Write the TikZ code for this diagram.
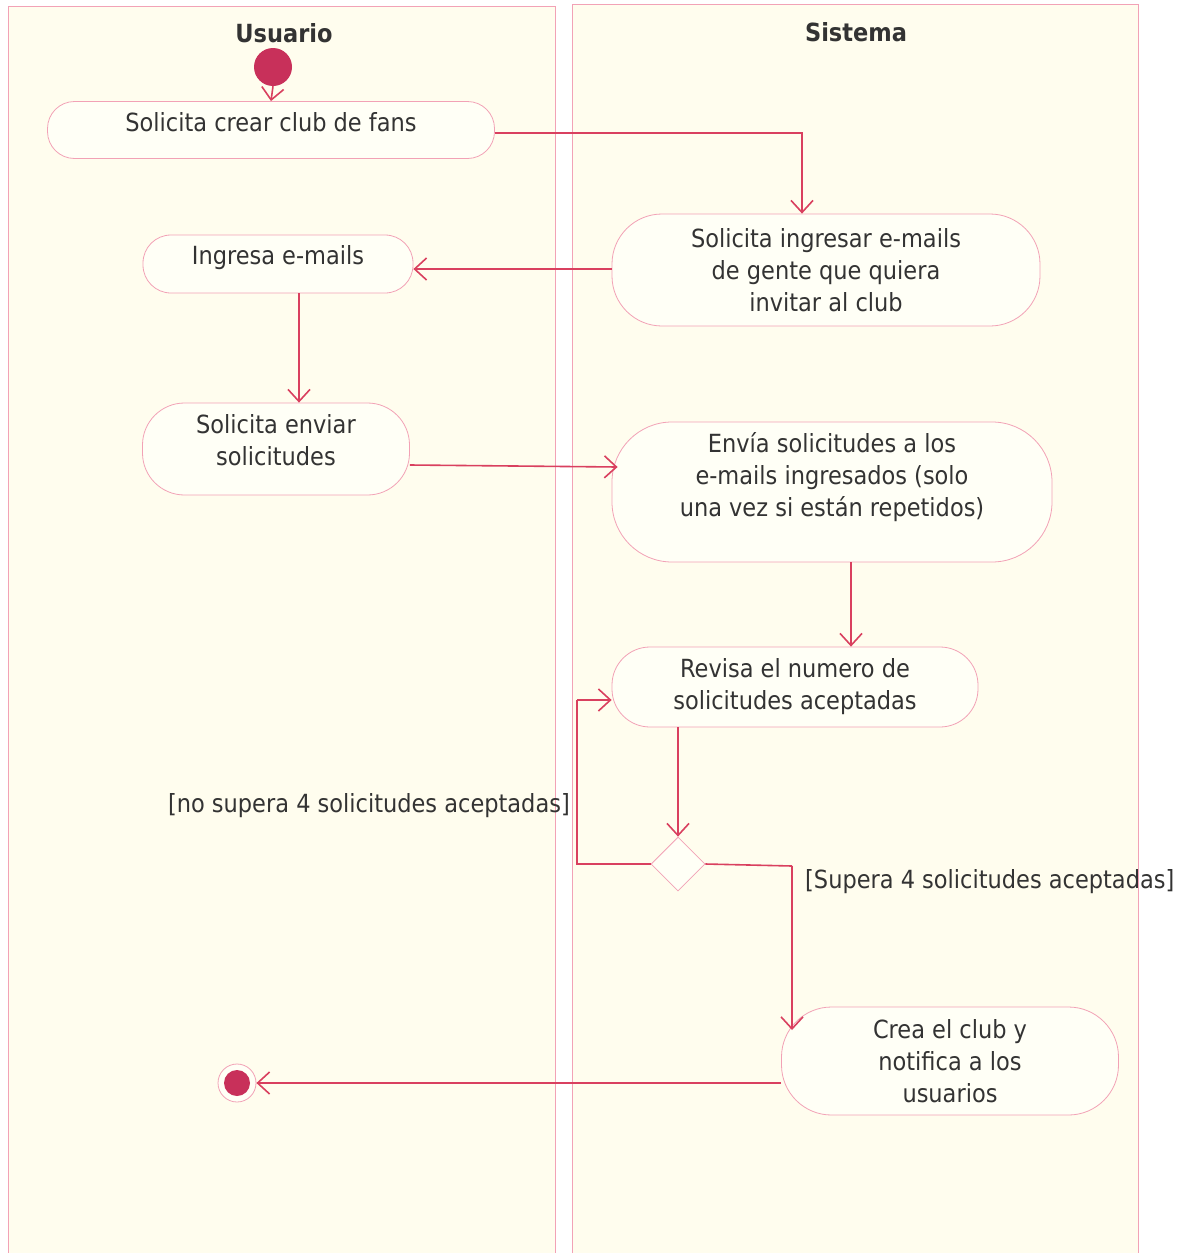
\documentclass[tikz,border=0pt]{standalone}
\usepackage{fontspec}
\setmainfont{DejaVu Sans Condensed}
\usetikzlibrary{arrows.meta,shapes.geometric}
\definecolor{lanefill}{HTML}{FFFDEE}
\definecolor{laneline}{HTML}{F2A2B6}
\definecolor{flowc}{HTML}{D9405F}
\definecolor{dotc}{HTML}{C8305A}
\definecolor{actfill}{HTML}{FFFFF6}
\definecolor{txt}{HTML}{333333}
\tikzset{
  lane/.style={draw=laneline, line width=1pt, fill=lanefill},
  lanetitle/.style={font=\bfseries\fontsize{25}{28}\selectfont, text=txt},
  act/.style={draw=laneline, line width=0.8pt, fill=actfill, align=center, inner sep=0pt,
    font=\fontsize{25}{32}\selectfont, text=txt},
  flow/.style={draw=flowc, line width=1.6pt, -{Straight Barb[length=12pt,width=22pt,line width=1.6pt]}},
  flowline/.style={draw=flowc, line width=1.6pt},
  guard/.style={font=\fontsize{25}{28}\selectfont, text=txt, inner sep=0pt},
  decision/.style={diamond, draw=laneline, line width=0.8pt, fill=actfill, minimum width=54pt, minimum height=54pt, inner sep=0pt},
}
\begin{document}
\begin{tikzpicture}[x=1pt,y=-1pt]
\useasboundingbox (0,0) rectangle (1185,1253);
\fill[white] (0,0) rectangle (1185,1253);
% lanes
\draw[lane] (8,1260) -- (8,6) -- (555,6) -- (555,1260);
\draw[lane] (572,1260) -- (572,4) -- (1138,4) -- (1138,1260);
\node[lanetitle] (tu) at (284,33) {Usuario};
\node[lanetitle] (ts) at (856,32) {Sistema};
% start
\node[circle, fill=dotc, minimum size=38pt, inner sep=0pt] (start) at (273,67) {};
% activities
\node[act, minimum width=447pt, minimum height=57pt, rounded corners=27pt, text depth=16pt] (a1) at (271,130) {Solicita crear club de fans};
\node[act, minimum width=428pt, minimum height=112pt, rounded corners=50pt] (a2) at (826,270) {Solicita ingresar e-mails\\de gente que quiera\\invitar al club};
\node[act, minimum width=270pt, minimum height=58pt, rounded corners=28pt, text depth=18pt] (a3) at (278,264) {Ingresa e-mails};
\node[act, minimum width=267pt, minimum height=92pt, rounded corners=42pt, text depth=18pt] (a4) at (276,449) {Solicita enviar\\solicitudes};
\node[act, minimum width=440pt, minimum height=140pt, rounded corners=60pt, text depth=36pt] (a5) at (832,492) {Envía solicitudes a los\\e-mails ingresados (solo\\una vez si están repetidos)};
\node[act, minimum width=366pt, minimum height=80pt, rounded corners=38pt] (a6) at (795,687) {Revisa el numero de\\solicitudes aceptadas};
\node[decision] (d) at (678,864) {};
\node[act, minimum width=337pt, minimum height=108pt, rounded corners=50pt] (a7) at (950,1061) {Crea el club y\\notifica a los\\usuarios};
% final
\node[circle, draw=laneline, line width=0.8pt, fill=actfill, minimum size=38pt, inner sep=0pt] (fin) at (237,1083) {};
\node[circle, fill=dotc, minimum size=26pt, inner sep=0pt] (fin2) at (fin) {};
% flows
\draw[flow] (start.south) -- (a1.north);
\draw[flow] ([yshift=-3pt]a1.east) -| ([xshift=-24pt]a2.north);
\draw[flow] ([yshift=1pt]a2.west) -- ([yshift=1pt]a2.west -| a3.east);
\draw[flow] ([xshift=21pt]a3.south) -- ([xshift=21pt]a3.south |- a4.north);
\draw[flow] ([yshift=-16pt]a4.east) -- ([xshift=6pt,yshift=25pt]a5.west);
\draw[flow] ([xshift=19pt]a5.south) -- ([xshift=19pt]a5.south |- a6.north);
\draw[flow] ([xshift=-117pt]a6.south) -- (d.north);
\coordinate (lb) at (577,864);
\coordinate (lt) at (577,700);
\draw[flowline] (d.west) -- (lb) -- (lt);
\draw[flow] (lt) -- (lt -| a6.west);
\coordinate (rb) at (792,866);
\draw[flowline] (d.east) -- (rb);
\draw[flow] (rb) -- (792,1030);
\draw[flow] ([yshift=-22pt]a7.west) -- ([yshift=-22pt]a7.west -| fin.east);
% guards
\node[guard, anchor=east] (g1) at (570,806) {[no supera 4 solicitudes aceptadas]};
\node[guard, anchor=west] (g2) at (805,882) {[Supera 4 solicitudes aceptadas]};
\end{tikzpicture}
\end{document}
